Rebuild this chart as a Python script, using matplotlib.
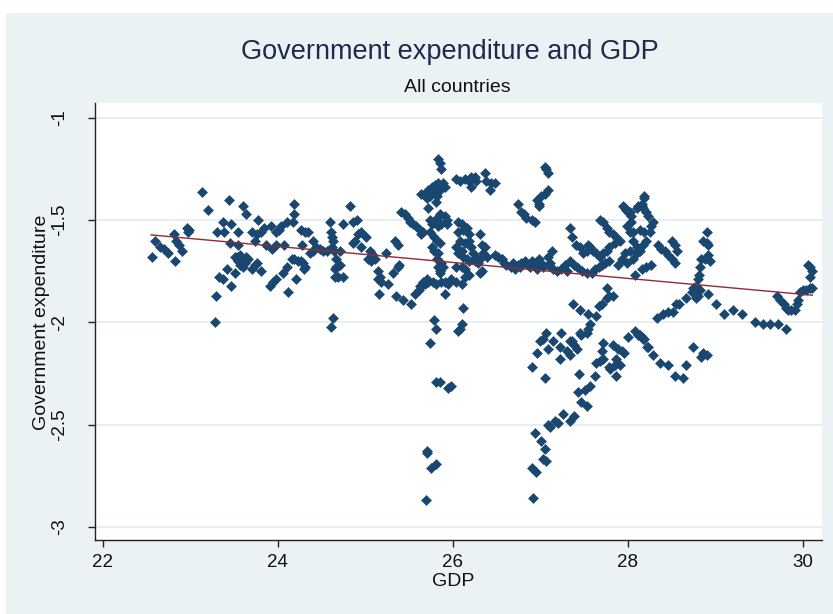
###### Government expenditure vs GDP scatter ########

import numpy as np
import matplotlib
matplotlib.use('Agg')
import matplotlib.pyplot as plt
from matplotlib.patches import Rectangle

plt.rcParams['font.family'] = ['Liberation Sans', 'DejaVu Sans']

# Data (log GDP vs log government expenditure)
# small-economy group, GDP 22.5 - 23.1
gdp_a = [22.56, 22.60, 22.65, 22.70, 22.74, 22.81, 22.84, 22.87, 22.82, 22.91, 22.96, 22.99, 22.97]
exp_a = [-1.68, -1.60, -1.63, -1.64, -1.66, -1.57, -1.60, -1.62, -1.70, -1.65, -1.54, -1.55, -1.56]

# GDP 23.1 - 24.7
gdp_b = [23.13, 23.20, 23.29, 23.28, 23.31, 23.37, 23.38, 23.44, 23.47, 23.45, 23.33, 23.37, 23.42,
         23.46, 23.51, 23.54, 23.55, 23.51, 23.53, 23.57, 23.60, 23.64, 23.66, 23.55, 23.59, 23.62,
         23.57, 23.60, 23.60, 23.64, 23.70, 23.74, 23.74, 23.71, 23.76, 23.81, 23.77, 23.76, 23.81,
         23.84, 23.92, 23.87, 23.93, 23.98, 23.98, 24.01, 24.04, 24.07, 23.91, 23.95, 23.98, 24.12,
         24.10, 24.06, 24.10, 24.17, 24.18, 24.19, 24.16, 24.19, 24.23, 24.27, 24.29, 24.31, 24.30,
         24.21, 24.27, 24.31, 24.35, 24.28, 24.37, 24.40, 24.44, 24.40, 24.48, 24.52, 24.56, 24.60,
         24.61, 24.62, 24.63, 24.62, 24.64, 24.66, 24.65, 24.63, 24.61]
exp_b = [-1.36, -1.45, -1.87, -2.00, -1.56, -1.51, -1.56, -1.40, -1.52, -1.61, -1.78, -1.79, -1.74,
         -1.82, -1.76, -1.62, -1.56, -1.68, -1.68, -1.67, -1.69, -1.68, -1.69, -1.70, -1.71, -1.71,
         -1.72, -1.73, -1.43, -1.47, -1.56, -1.60, -1.72, -1.74, -1.71, -1.75, -1.50, -1.57, -1.56,
         -1.54, -1.53, -1.62, -1.64, -1.62, -1.56, -1.55, -1.53, -1.62, -1.82, -1.80, -1.79, -1.85,
         -1.73, -1.76, -1.51, -1.51, -1.42, -1.47, -1.69, -1.69, -1.70, -1.70, -1.71, -1.73, -1.74,
         -1.79, -1.55, -1.56, -1.56, -1.62, -1.66, -1.65, -1.63, -1.60, -1.64, -1.65, -1.65, -1.51,
         -1.56, -1.58, -1.60, -1.63, -1.65, -1.73, -1.78, -1.98, -2.02]

# GDP 24.6 - 25.7
gdp_c = [24.82, 24.75, 24.86, 24.90, 24.71, 24.67, 24.71, 24.65, 24.69, 24.75, 24.88, 24.92, 24.95,
         25.01, 24.86, 24.95, 25.05, 25.03, 25.07, 25.11, 25.09, 25.24, 25.34, 25.37, 25.39, 25.37,
         25.32, 25.15, 25.17, 25.15, 25.18, 25.16, 25.26, 25.35, 25.43, 25.52, 25.41, 25.45, 25.49,
         25.51, 25.55, 25.58, 25.62, 25.66, 25.64, 25.68, 25.57, 25.62, 25.66, 25.70, 25.64]
exp_c = [-1.43, -1.52, -1.51, -1.50, -1.65, -1.69, -1.72, -1.74, -1.78, -1.78, -1.60, -1.57, -1.56,
         -1.58, -1.61, -1.63, -1.65, -1.69, -1.70, -1.69, -1.67, -1.66, -1.60, -1.62, -1.72, -1.73,
         -1.76, -1.75, -1.78, -1.79, -1.80, -1.86, -1.81, -1.87, -1.89, -1.91, -1.46, -1.47, -1.49,
         -1.51, -1.52, -1.53, -1.55, -1.56, -1.37, -1.38, -1.86, -1.82, -1.80, -1.79, -1.57]

# GDP 25.7 - 26.6, upper groups
gdp_d = [25.83, 25.85, 25.87, 25.68, 25.72, 25.76, 25.80, 25.83, 25.89, 25.91, 25.74, 25.82, 25.70,
         25.80, 25.85, 25.81, 26.04, 26.08, 26.14, 26.18, 26.21, 26.25, 26.27, 26.21, 26.37, 26.38,
         26.44, 26.42, 26.48, 25.72, 25.74, 25.78, 25.82, 25.85, 25.91, 25.93, 25.76, 25.79, 25.83,
         25.87, 25.74, 25.78, 25.82, 25.85, 25.76, 25.79, 25.83, 25.85, 25.89, 25.93, 26.06, 26.10,
         26.12, 26.16, 26.06, 26.08, 26.04, 26.06, 26.10, 26.14, 26.18, 26.19, 26.21, 26.23, 26.27,
         26.31, 26.35, 26.33, 26.31, 26.37, 26.39, 26.12, 26.16, 26.19, 26.25, 26.29, 26.33, 26.18,
         26.10, 26.14, 26.04, 26.48, 26.52, 26.56, 26.59, 25.82, 25.87, 25.83, 25.85, 26.14, 26.31]
exp_d = [-1.20, -1.22, -1.25, -1.37, -1.35, -1.34, -1.33, -1.32, -1.32, -1.34, -1.38, -1.38, -1.39,
         -1.36, -1.35, -1.41, -1.30, -1.31, -1.30, -1.31, -1.29, -1.29, -1.31, -1.34, -1.27, -1.31,
         -1.32, -1.35, -1.32, -1.44, -1.50, -1.51, -1.49, -1.47, -1.48, -1.50, -1.52, -1.51, -1.53,
         -1.52, -1.56, -1.58, -1.60, -1.61, -1.63, -1.65, -1.66, -1.75, -1.73, -1.52, -1.51, -1.52,
         -1.55, -1.54, -1.56, -1.60, -1.63, -1.66, -1.65, -1.61, -1.60, -1.57, -1.63, -1.66, -1.68,
         -1.69, -1.66, -1.62, -1.57, -1.63, -1.68, -1.68, -1.69, -1.70, -1.70, -1.71, -1.75, -1.77,
         -1.73, -1.74, -1.73, -1.67, -1.68, -1.69, -1.71, -1.69, -1.71, -1.73, -1.76, -1.78, -1.76]

# GDP 25.6 - 26.1, lower arc and outliers
gdp_e = [25.61, 25.64, 25.68, 25.72, 25.77, 25.81, 25.87, 25.91, 25.95, 25.98, 26.04, 26.10, 25.91,
         26.12, 25.78, 25.81, 26.10, 26.06, 26.08, 25.74, 25.81, 25.85, 25.95, 25.98, 25.70, 25.71,
         25.81, 25.75, 25.69]
exp_e = [-1.84, -1.82, -1.81, -1.80, -1.80, -1.81, -1.80, -1.80, -1.81, -1.79, -1.80, -1.81, -1.86,
         -1.93, -1.99, -2.03, -2.01, -2.04, -2.03, -2.10, -2.29, -2.29, -2.32, -2.31, -2.63, -2.64,
         -2.69, -2.71, -2.87]

# GDP 26.5 - 28.6, upper band
gdp_f = [26.75, 26.78, 26.81, 26.84, 26.90, 26.94, 26.96, 26.98, 26.99, 27.05, 27.07, 27.09, 27.09,
         27.05, 27.01, 27.34, 27.36, 27.41, 27.45, 27.13, 27.09,
         26.56, 26.61, 26.67, 26.71, 26.75, 26.78, 26.82, 26.86, 26.90, 26.94, 26.98, 27.01, 27.03,
         27.09, 27.15, 27.19, 27.24, 27.28, 27.34, 27.38, 27.42, 27.48, 27.53, 27.59, 27.63, 27.67,
         27.70, 27.74, 27.78, 26.69, 26.77, 26.88, 26.96, 27.11, 27.30,
         27.68, 27.72, 27.76, 27.79, 27.83, 27.87, 27.91, 27.85, 27.79, 27.76, 27.72, 27.68, 27.64,
         27.60, 27.57, 27.53, 27.49, 27.55, 27.97, 28.00, 28.04, 27.99, 28.02, 28.06, 28.10, 28.02,
         27.97, 27.93, 27.89, 27.99, 28.06, 28.10, 28.14, 28.17, 28.21, 28.25, 28.27, 28.29, 28.23,
         28.21, 28.17, 28.16, 28.19, 28.12, 28.04, 28.14, 28.19, 28.06,
         28.08, 28.16, 28.21, 28.27, 28.35, 28.38, 28.42, 28.46, 28.50, 28.54, 28.50, 28.54, 28.56,
         28.19, 27.95, 27.98, 28.02, 28.10, 28.16]
exp_f = [-1.42, -1.46, -1.47, -1.49, -1.50, -1.51, -1.40, -1.43, -1.42, -1.24, -1.25, -1.27, -1.35,
         -1.37, -1.38, -1.54, -1.58, -1.62, -1.63, -1.65, -1.68,
         -1.69, -1.72, -1.73, -1.74, -1.72, -1.71, -1.70, -1.72, -1.70, -1.72, -1.69, -1.71, -1.73,
         -1.72, -1.74, -1.75, -1.74, -1.72, -1.70, -1.72, -1.73, -1.75, -1.76, -1.76, -1.74, -1.73,
         -1.72, -1.71, -1.70, -1.71, -1.73, -1.73, -1.74, -1.71, -1.75,
         -1.50, -1.51, -1.54, -1.56, -1.57, -1.58, -1.60, -1.61, -1.63, -1.65, -1.66, -1.68, -1.66,
         -1.65, -1.63, -1.65, -1.66, -1.62, -1.44, -1.46, -1.48, -1.53, -1.56, -1.60, -1.63, -1.65,
         -1.66, -1.69, -1.72, -1.71, -1.69, -1.66, -1.65, -1.62, -1.60, -1.56, -1.53, -1.51, -1.48,
         -1.46, -1.44, -1.42, -1.38, -1.43, -1.51, -1.55, -1.56, -1.56,
         -1.77, -1.74, -1.73, -1.72, -1.62, -1.64, -1.65, -1.67, -1.69, -1.71, -1.60, -1.62, -1.65,
         -1.39, -1.43, -1.45, -1.46, -1.44, -1.43]

# GDP 26.9 - 28.6, lower branch
gdp_g = [27.76, 27.83, 27.79, 27.76, 27.70, 27.67, 27.64, 27.57, 27.53, 27.54, 27.37, 27.45, 27.54,
         28.33, 28.40, 28.46, 28.52, 28.55,
         27.07, 27.03, 27.00, 26.96, 26.90, 27.05, 27.09, 27.14, 27.24, 27.22, 27.22, 27.30, 27.34,
         27.36, 27.39, 27.42, 27.45, 27.47, 27.34,
         27.72, 27.70, 27.72, 27.64, 27.68, 27.78, 27.80, 27.85, 27.87, 27.83, 27.89, 27.93, 27.96,
         27.87, 27.91, 28.00, 28.08, 28.12, 28.16, 28.18, 28.22, 28.29, 28.37, 28.46, 28.54,
         27.62, 27.57, 27.51, 27.43, 27.47, 27.53, 27.44,
         27.38, 27.34, 27.26, 27.20, 27.17, 27.11, 27.09,
         26.94, 27.01, 27.05, 27.03, 27.07, 26.91, 26.95, 26.92]
exp_g = [-1.83, -1.87, -1.87, -1.88, -1.91, -1.92, -1.97, -2.01, -2.05, -2.03, -1.91, -1.94, -1.96,
         -1.98, -1.96, -1.95, -1.95, -1.91,
         -2.05, -2.08, -2.09, -2.15, -2.22, -2.27, -2.13, -2.09, -2.05, -2.12, -2.18, -2.14, -2.16,
         -2.09, -2.11, -2.13, -2.05, -2.06, -2.09,
         -2.10, -2.14, -2.18, -2.20, -2.19, -2.22, -2.23, -2.21, -2.26, -2.11, -2.13, -2.14, -2.15,
         -2.18, -2.21, -2.07, -2.04, -2.06, -2.07, -2.08, -2.12, -2.16, -2.20, -2.21, -2.26,
         -2.26, -2.31, -2.33, -2.34, -2.39, -2.41, -2.25,
         -2.46, -2.48, -2.45, -2.49, -2.48, -2.51, -2.50,
         -2.54, -2.58, -2.62, -2.67, -2.68, -2.71, -2.73, -2.86]

# GDP 28.6 - 30.1
gdp_h = [28.90, 28.86, 28.90, 28.92, 28.92, 28.88, 28.84, 28.94, 28.82, 28.81, 28.80, 28.78, 28.75,
         28.73, 28.77, 28.80, 28.78, 28.82, 28.92, 28.67, 28.59, 29.01, 29.10, 29.20, 29.31, 29.45,
         29.54, 29.63, 29.72, 29.81, 29.70, 29.74, 29.78, 29.81, 29.83, 29.87, 29.91, 29.93, 29.95,
         29.97, 30.00, 30.04, 30.08, 30.11, 30.06, 30.08, 30.10, 30.08, 28.90, 28.86, 28.84, 28.75,
         28.67, 28.63, 28.14, 28.17, 28.23]
exp_h = [-1.56, -1.60, -1.61, -1.62, -1.67, -1.69, -1.69, -1.70, -1.73, -1.77, -1.79, -1.82, -1.83,
         -1.85, -1.86, -1.87, -1.88, -1.84, -1.86, -1.88, -1.91, -1.91, -1.96, -1.94, -1.96, -2.00,
         -2.01, -2.01, -2.01, -2.03, -1.87, -1.89, -1.91, -1.93, -1.94, -1.94, -1.94, -1.91, -1.89,
         -1.85, -1.84, -1.84, -1.83, -1.83, -1.72, -1.73, -1.75, -1.78, -2.16, -2.15, -2.17, -2.12,
         -2.21, -2.27, -2.06, -2.08, -2.12]

# fitted line end points
fit_gdp = [22.55, 30.11]
fit_exp = [-1.572, -1.867]

xticks = [22, 24, 26, 28, 30]
yticks = [-1, -1.5, -2, -2.5, -3]
ytick_labels = ['-1', '-1.5', '-2', '-2.5', '-3']

gdp = np.concatenate([gdp_a, gdp_b, gdp_c, gdp_d, gdp_e, gdp_f, gdp_g, gdp_h])
gov_exp = np.concatenate([exp_a, exp_b, exp_c, exp_d, exp_e, exp_f, exp_g, exp_h])

# Figure with Stata-like graph region
fig = plt.figure(figsize=(8.33, 6.14), dpi=100)
fig.patch.set_facecolor('white')
fig.patches.append(Rectangle((6/833, 0), 1, 601/614, transform=fig.transFigure,
                             facecolor='#eaf2f3', edgecolor='none', zorder=-10))

ax = fig.add_axes([95/833, 1 - 540/614, 727/833, 437/614])
ax.set_facecolor('white')

ax.plot(gdp, gov_exp, linestyle='none', marker='D', markersize=4.8,
        color='#1a476f', markeredgewidth=0.4, zorder=3)
ax.plot(fit_gdp, fit_exp, color='#8e2c33', linewidth=1, zorder=4)

ax.set_xlim(21.91, 30.22)
ax.set_ylim(-3.064, -0.927)
ax.set_xticks(xticks)
ax.set_yticks(yticks)
ax.set_yticklabels(ytick_labels, rotation=90, va='center')
ax.yaxis.grid(True, color='#e3ebee', linewidth=1.2)
ax.set_axisbelow(True)

for side in ['top', 'right']:
    ax.spines[side].set_visible(False)
for side in ['left', 'bottom']:
    ax.spines[side].set_color('#222222')
    ax.spines[side].set_linewidth(1)

ax.tick_params(axis='x', length=5, width=1, color='#222222', labelsize=13.5, pad=5, labelcolor='#111111')
ax.tick_params(axis='y', length=5, width=1, color='#222222', labelsize=13.5, pad=14, labelcolor='#111111')

fig.text(450/833, 1 - 52/614, 'Government expenditure and GDP', ha='center', va='center',
         fontsize=19.5, color='#1c2b4a')
fig.text(457/833, 1 - 87/614, 'All countries', ha='center', va='center', fontsize=14, color='#111111')
fig.text(453/833, 1 - 582/614, 'GDP', ha='center', va='center', fontsize=14, color='#111111')
fig.text(42/833, 1 - 322/614, 'Government expenditure', ha='center', va='center',
         rotation=90, fontsize=14, color='#111111')

plt.savefig('out.png', dpi=100)
